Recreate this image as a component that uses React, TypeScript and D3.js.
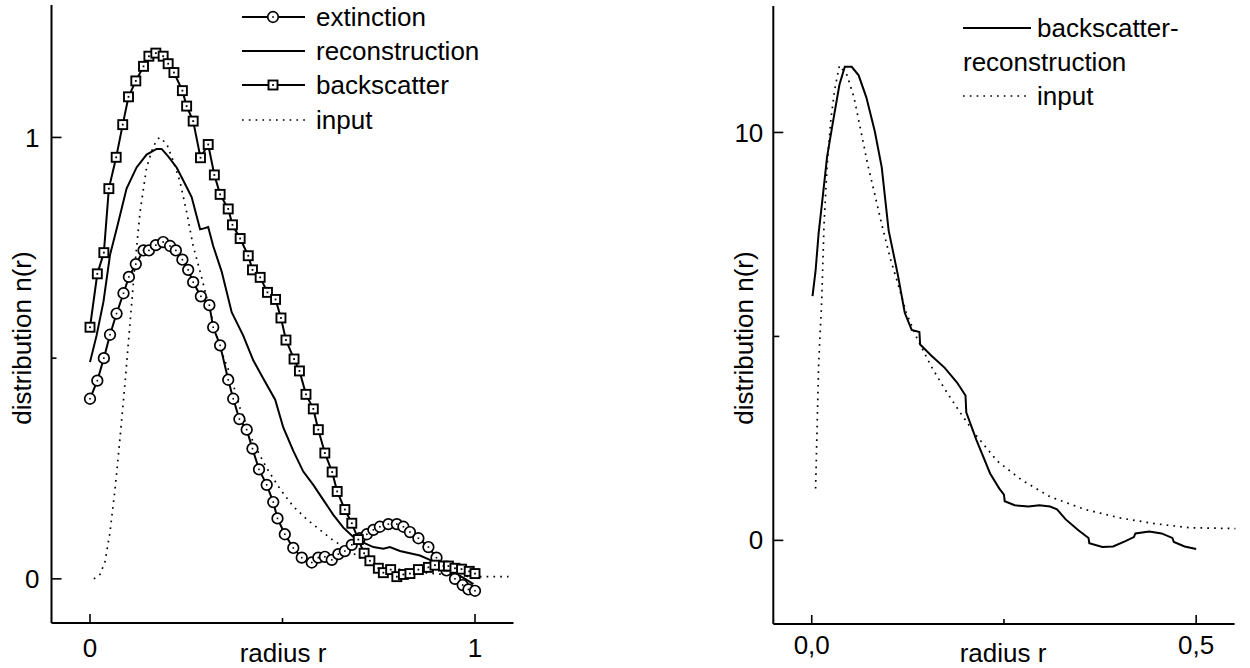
import React from "react";
import * as d3 from "d3";

// ---------- Left panel data ----------
const extinctionR = [0, 0.019, 0.036, 0.052, 0.069, 0.087, 0.101, 0.119, 0.139, 0.153, 0.171, 0.19, 0.208, 0.223, 0.24, 0.255, 0.268, 0.288, 0.31, 0.32, 0.338, 0.359, 0.372, 0.388, 0.407, 0.422, 0.439, 0.459, 0.476, 0.487, 0.506, 0.528, 0.55, 0.576, 0.593, 0.61, 0.628, 0.645, 0.662, 0.68, 0.701, 0.719, 0.736, 0.753, 0.775, 0.797, 0.814, 0.831, 0.853, 0.879, 0.9, 0.926, 0.948, 0.968, 0.983, 1.0];
const extinctionN = [0.408, 0.449, 0.5, 0.553, 0.601, 0.647, 0.684, 0.713, 0.744, 0.744, 0.756, 0.763, 0.754, 0.744, 0.723, 0.7, 0.672, 0.64, 0.62, 0.57, 0.529, 0.451, 0.408, 0.362, 0.338, 0.295, 0.248, 0.213, 0.174, 0.137, 0.101, 0.07, 0.048, 0.037, 0.048, 0.05, 0.043, 0.056, 0.063, 0.077, 0.092, 0.101, 0.111, 0.118, 0.124, 0.124, 0.118, 0.106, 0.092, 0.072, 0.048, 0.019, 0.0, -0.014, -0.024, -0.027];

const backscatterR = [0, 0.019, 0.036, 0.049, 0.068, 0.085, 0.1, 0.119, 0.139, 0.153, 0.171, 0.19, 0.203, 0.218, 0.24, 0.251, 0.268, 0.287, 0.307, 0.323, 0.338, 0.359, 0.37, 0.39, 0.411, 0.422, 0.442, 0.461, 0.482, 0.496, 0.509, 0.53, 0.544, 0.561, 0.58, 0.593, 0.61, 0.629, 0.642, 0.662, 0.68, 0.697, 0.712, 0.727, 0.749, 0.762, 0.781, 0.797, 0.814, 0.831, 0.853, 0.879, 0.896, 0.918, 0.931, 0.948, 0.965, 0.985, 1.0];
const backscatterN = [0.57, 0.691, 0.739, 0.884, 0.955, 1.029, 1.092, 1.128, 1.161, 1.184, 1.191, 1.184, 1.167, 1.147, 1.106, 1.071, 1.037, 0.954, 0.984, 0.915, 0.871, 0.838, 0.802, 0.771, 0.732, 0.7, 0.683, 0.649, 0.633, 0.591, 0.541, 0.498, 0.471, 0.418, 0.385, 0.338, 0.285, 0.242, 0.198, 0.157, 0.126, 0.089, 0.058, 0.041, 0.024, 0.014, 0.021, 0.005, 0.01, 0.012, 0.021, 0.026, 0.031, 0.029, 0.029, 0.024, 0.022, 0.017, 0.012];

const reconstructionR = [0, 0.017, 0.035, 0.052, 0.069, 0.095, 0.121, 0.147, 0.173, 0.186, 0.203, 0.225, 0.242, 0.264, 0.286, 0.296, 0.307, 0.32, 0.342, 0.368, 0.398, 0.424, 0.45, 0.481, 0.502, 0.528, 0.554, 0.58, 0.606, 0.632, 0.658, 0.684, 0.71, 0.736, 0.762, 0.779, 0.805, 0.831, 0.857, 0.883, 0.918, 0.944, 0.97, 0.996];
const reconstructionN = [0.491, 0.551, 0.628, 0.734, 0.792, 0.884, 0.932, 0.961, 0.974, 0.974, 0.957, 0.932, 0.903, 0.865, 0.792, 0.794, 0.797, 0.754, 0.696, 0.604, 0.551, 0.495, 0.454, 0.406, 0.343, 0.29, 0.243, 0.213, 0.179, 0.145, 0.116, 0.095, 0.082, 0.072, 0.068, 0.072, 0.063, 0.058, 0.053, 0.043, 0.029, 0.014, 0.002, -0.012];

const inputR = [0.01, 0.026, 0.039, 0.052, 0.065, 0.078, 0.091, 0.104, 0.117, 0.13, 0.147, 0.165, 0.18, 0.199, 0.216, 0.234, 0.251, 0.268, 0.286, 0.303, 0.32, 0.338, 0.364, 0.39, 0.424, 0.459, 0.494, 0.528, 0.563, 0.597, 0.632, 0.667, 0.701, 0.736, 0.788, 0.84, 0.892, 0.944, 0.996, 1.048, 1.087];
const inputN = [0, 0.01, 0.039, 0.106, 0.203, 0.319, 0.444, 0.58, 0.715, 0.831, 0.932, 0.981, 1.0, 0.986, 0.947, 0.899, 0.831, 0.754, 0.696, 0.638, 0.58, 0.522, 0.464, 0.386, 0.309, 0.251, 0.203, 0.164, 0.135, 0.111, 0.087, 0.068, 0.048, 0.039, 0.024, 0.016, 0.012, 0.008, 0.005, 0.005, 0.005];

const leftLegend = ["extinction", "reconstruction", "backscatter", "input"];
const leftXTicks = [0, 1];
const leftYTicks = [0, 1];

// ---------- Right panel data ----------
const bsRecR = [0.001, 0.005, 0.009, 0.014, 0.02, 0.027, 0.036, 0.043, 0.052, 0.061, 0.071, 0.082, 0.091, 0.1, 0.112, 0.121, 0.13, 0.14, 0.141, 0.155, 0.173, 0.189, 0.2, 0.201, 0.214, 0.232, 0.244, 0.25, 0.251, 0.264, 0.282, 0.296, 0.31, 0.319, 0.33, 0.346, 0.36, 0.361, 0.378, 0.392, 0.408, 0.419, 0.421, 0.439, 0.455, 0.469, 0.471, 0.485, 0.5];
const bsRecN = [5.99, 6.61, 7.54, 8.37, 9.41, 10.19, 11.17, 11.61, 11.61, 11.4, 10.86, 10.03, 9.15, 7.6, 6.51, 5.58, 5.16, 5.11, 4.8, 4.54, 4.23, 3.87, 3.55, 3.14, 2.47, 1.64, 1.27, 1.12, 0.96, 0.86, 0.83, 0.86, 0.83, 0.76, 0.52, 0.26, 0.06, -0.07, -0.16, -0.15, -0.02, 0.08, 0.17, 0.22, 0.17, 0.06, -0.04, -0.15, -0.21];

const inputR2 = [0.005, 0.007, 0.009, 0.013, 0.016, 0.02, 0.025, 0.03, 0.036, 0.046, 0.055, 0.064, 0.073, 0.082, 0.091, 0.102, 0.112, 0.123, 0.137, 0.155, 0.173, 0.191, 0.214, 0.241, 0.273, 0.31, 0.355, 0.401, 0.446, 0.492, 0.551];
const inputN2 = [1.27, 2.78, 4.33, 5.89, 7.75, 9.2, 10.34, 11.07, 11.64, 11.4, 10.86, 10.03, 9.2, 8.48, 7.75, 6.92, 6.3, 5.58, 4.95, 4.28, 3.71, 3.19, 2.57, 1.95, 1.48, 1.07, 0.76, 0.55, 0.41, 0.31, 0.29];

const rightLegend = ["backscatter-", "reconstruction", "input"];
const rightXTicks = ["0,0", "0,5"];
const rightYTicks = [0, 10];

const FONT = "'Liberation Sans', Arial, Helvetica, sans-serif";
const FS = 26;

type P = [number, number];
const zip = (a: number[], b: number[]): P[] => a.map((v, i) => [v, b[i]]);

export default function App() {
  const lx = d3.scaleLinear().domain([-0.1, 1.1]).range([51.5, 513.5]);
  const ly = d3.scaleLinear().domain([-0.1, 1.3]).range([623, 5]);
  const rx = d3.scaleLinear().domain([-0.05, 0.55]).range([773.3, 1234.6]);
  const ry = d3.scaleLinear().domain([-2.05, 13.1]).range([624, 6]);

  const lineL = d3.line<P>().x((d) => lx(d[0])).y((d) => ly(d[1]));
  const lineR = d3.line<P>().x((d) => rx(d[0])).y((d) => ry(d[1]));

  const ext = zip(extinctionR, extinctionN);
  const bs = zip(backscatterR, backscatterN);
  const rec = zip(reconstructionR, reconstructionN);
  const inp = zip(inputR, inputN);
  const bsRec = zip(bsRecR, bsRecN);
  const inp2 = zip(inputR2, inputN2);

  const axisW = 2;
  const lineW = 2;
  const dots = "1.7 5.1";

  const circle = (x: number, y: number, k: string) => (
    <g key={k}>
      <circle cx={x} cy={y} r={5.3} fill="#fff" stroke="#000" strokeWidth={1.7} />
      <rect x={x - 0.8} y={y - 0.8} width={1.6} height={1.6} fill="#000" />
    </g>
  );
  const square = (x: number, y: number, k: string) => (
    <g key={k}>
      <rect x={x - 4.5} y={y - 4.5} width={9} height={9} fill="#fff" stroke="#000" strokeWidth={1.9} />
      <rect x={x - 0.9} y={y - 0.9} width={1.8} height={1.8} fill="#000" />
    </g>
  );

  const legRowsL = [17, 51, 85, 120];

  return (
    <svg
      width={1250}
      height={668}
      style={{ position: "absolute", left: 0, top: 0, background: "#fff" }}
      fontFamily={FONT}
    >
      <rect x={0} y={0} width={1250} height={668} fill="#fff" />
      {/* ================= LEFT PANEL ================= */}
      <g>
        <line x1={lx(-0.1)} x2={lx(-0.1)} y1={ly(1.3)} y2={ly(-0.1)} stroke="#000" strokeWidth={axisW} />
        <line x1={lx(-0.1)} x2={lx(1.1)} y1={ly(-0.1)} y2={ly(-0.1)} stroke="#000" strokeWidth={axisW} />
        {[0, 0.5, 1].map((v) => (
          <line key={"lyt" + v} x1={lx(-0.1)} x2={lx(-0.1) + (v === 0.5 ? 5 : 10)} y1={ly(v)} y2={ly(v)} stroke="#000" strokeWidth={1.6} />
        ))}
        {leftYTicks.map((v) => (
          <text key={"lyl" + v} x={lx(-0.1) - 12} y={ly(v)} dy="0.35em" textAnchor="end" fontSize={FS}>
            {v}
          </text>
        ))}
        {[0, 0.5, 1].map((v) => (
          <line key={"lxt" + v} x1={lx(v)} x2={lx(v)} y1={ly(-0.1)} y2={ly(-0.1) - (v === 0.5 ? 5 : 9)} stroke="#000" strokeWidth={1.6} />
        ))}
        {leftXTicks.map((v) => (
          <text key={"lxl" + v} x={lx(v)} y={657} textAnchor="middle" fontSize={FS}>
            {v}
          </text>
        ))}
        <text x={283} y={662} textAnchor="middle" fontSize={FS}>radius r</text>
        <text transform={`translate(31,338) rotate(-90)`} textAnchor="middle" fontSize={FS}>distribution n(r)</text>

        <path d={lineL(inp) || ""} fill="none" stroke="#000" strokeWidth={1.7} strokeDasharray={dots} />
        <path d={lineL(rec) || ""} fill="none" stroke="#000" strokeWidth={lineW} />
        <path d={lineL(bs) || ""} fill="none" stroke="#000" strokeWidth={lineW} />
        <path d={lineL(ext) || ""} fill="none" stroke="#000" strokeWidth={lineW} />
        {ext.map((d, i) => circle(lx(d[0]), ly(d[1]), "c" + i))}
        {bs.map((d, i) => square(lx(d[0]), ly(d[1]), "s" + i))}

        {leftLegend.map((name, i) => {
          const y = legRowsL[i];
          return (
            <g key={"leg" + name}>
              <line
                x1={242}
                x2={305}
                y1={y}
                y2={y}
                stroke="#000"
                strokeWidth={name === "input" ? 1.7 : lineW}
                strokeDasharray={name === "input" ? dots : undefined}
              />
              {name === "extinction" && circle(273, y, "legc")}
              {name === "backscatter" && square(273, y, "legs")}
              <text x={316} y={y} dy="0.35em" fontSize={FS}>
                {name}
              </text>
            </g>
          );
        })}
      </g>

      {/* ================= RIGHT PANEL ================= */}
      <g>
        <line x1={rx(-0.05)} x2={rx(-0.05)} y1={ry(13.1)} y2={ry(-2.05)} stroke="#000" strokeWidth={axisW} />
        <line x1={rx(-0.05)} x2={rx(0.55)} y1={ry(-2.05)} y2={ry(-2.05)} stroke="#000" strokeWidth={axisW} />
        {[0, 5, 10].map((v) => (
          <line key={"ryt" + v} x1={rx(-0.05)} x2={rx(-0.05) + (v === 5 ? 6 : 10)} y1={ry(v)} y2={ry(v)} stroke="#000" strokeWidth={1.6} />
        ))}
        {rightYTicks.map((v) => (
          <text key={"ryl" + v} x={rx(-0.05) - 10} y={ry(v)} dy="0.35em" textAnchor="end" fontSize={FS}>
            {v}
          </text>
        ))}
        {[0, 0.25, 0.5].map((v) => (
          <line key={"rxt" + v} x1={rx(v)} x2={rx(v)} y1={ry(-2.05)} y2={ry(-2.05) - (v === 0.25 ? 5 : 9)} stroke="#000" strokeWidth={1.6} />
        ))}
        {rightXTicks.map((t, i) => (
          <text key={"rxl" + t} x={rx(i * 0.5)} y={654} textAnchor="middle" fontSize={FS}>
            {t}
          </text>
        ))}
        <text x={1003} y={662} textAnchor="middle" fontSize={FS}>radius r</text>
        <text transform={`translate(753,338) rotate(-90)`} textAnchor="middle" fontSize={FS}>distribution n(r)</text>

        <path d={lineR(inp2) || ""} fill="none" stroke="#000" strokeWidth={1.7} strokeDasharray={dots} />
        <path d={lineR(bsRec) || ""} fill="none" stroke="#000" strokeWidth={lineW} />

        <line x1={963} x2={1031} y1={28} y2={28} stroke="#000" strokeWidth={lineW} />
        <text x={1037} y={28} dy="0.35em" fontSize={FS}>{rightLegend[0]}</text>
        <text x={963} y={62} dy="0.35em" fontSize={FS}>{rightLegend[1]}</text>
        <line x1={963} x2={1031} y1={96} y2={96} stroke="#000" strokeWidth={1.7} strokeDasharray={dots} />
        <text x={1037} y={96} dy="0.35em" fontSize={FS}>{rightLegend[2]}</text>
      </g>
    </svg>
  );
}
